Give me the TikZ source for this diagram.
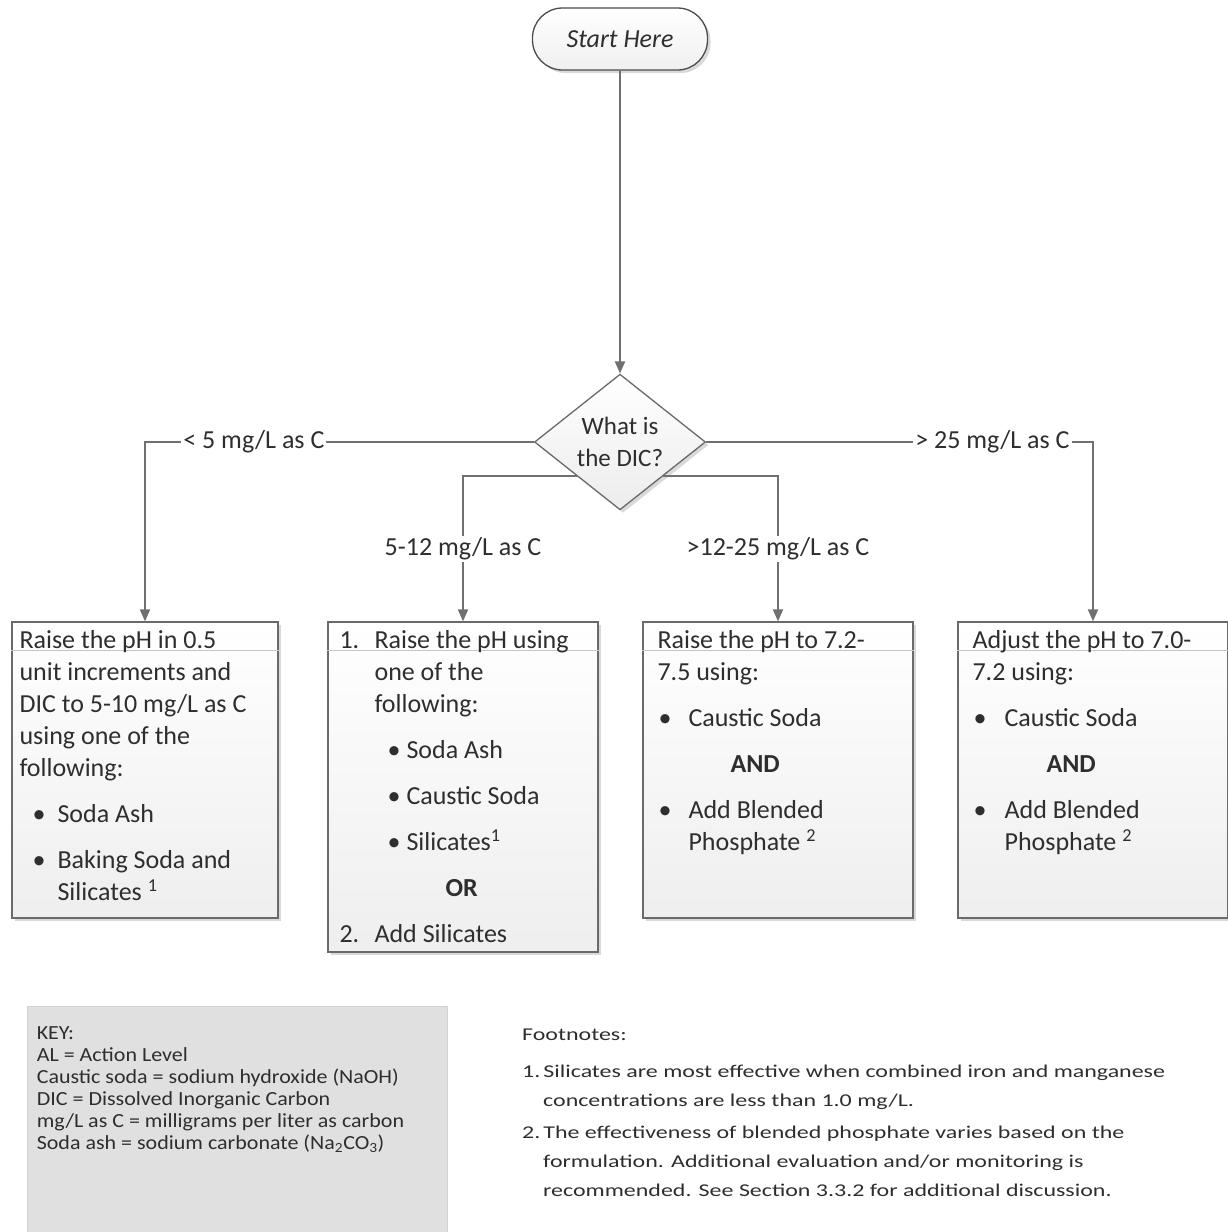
\documentclass[tikz,border=0pt]{standalone}
\usepackage{fontspec}
\setmainfont{Carlito}
\newfontfamily\keyfont{Carlito}[FakeStretch=1.1]
\newfontfamily\notefont{Carlito}[FakeStretch=1.33]
\usepackage{tikz}
\usetikzlibrary{shapes.geometric, arrows.meta, positioning, calc, shadows}

\definecolor{linegray}{HTML}{707070}
\definecolor{edgegray}{HTML}{6A6A6A}
\definecolor{keygray}{HTML}{E0E0E0}
\definecolor{inkgray}{HTML}{2E2E2E}

% bullet: indent, then a box that holds the bullet
\newcommand{\bul}[2]{\hspace*{#1}\makebox[#2][l]{\textbullet}}

\begin{document}
\begin{tikzpicture}[
    x=1pt, y=-1pt,
    box/.style={
      rectangle, draw=edgegray, line width=1.3pt,
      top color=white, bottom color=gray!13,
      drop shadow={shadow xshift=3pt, shadow yshift=-3pt, opacity=0.3, fill=gray},
      inner sep=0pt
    },
    startbox/.style={
      rectangle, rounded corners=30pt, draw=black!70, line width=1.3pt,
      top color=white, bottom color=gray!12,
      drop shadow={shadow xshift=3pt, shadow yshift=-3pt, opacity=0.3, fill=gray},
      minimum width=175pt, minimum height=62pt,
      font=\fontsize{26}{30}\selectfont\itshape, text=inkgray
    },
    decision/.style={
      diamond, draw=edgegray, line width=1.3pt, inner sep=0pt,
      top color=white, bottom color=gray!15,
      drop shadow={shadow xshift=3pt, shadow yshift=-3pt, opacity=0.3, fill=gray},
      minimum width=171pt, minimum height=130pt, align=center,
      font=\fontsize{25}{32}\selectfont, text=inkgray
    },
    txt/.style={anchor=north west, inner sep=0pt, align=left,
                font=\fontsize{26}{32}\selectfont, text=inkgray},
    arr/.style={-{Triangle[length=12pt, width=10pt]}, line width=1.9pt, draw=linegray},
    lbl/.style={font=\fontsize{26}{30}\selectfont, text=inkgray,
                fill=white, inner sep=2pt},
    rule/.style={draw=gray!45, line width=0.8pt},
    keybox/.style={rectangle, fill=keygray, draw=gray!35, line width=0.8pt,
                   minimum width=420pt, minimum height=250pt, inner sep=0pt},
    note/.style={anchor=north west, inner sep=0pt, align=left, text=inkgray},
  ]
  \useasboundingbox (0,0) rectangle (1228,1232);

  %% ── Start and decision ────────────────────────────────────────────────
  \node[startbox] (start) at (620,39) {Start Here};
  \node[decision] (dic)   at (620,442) {What is\\the DIC?};

  %% ── Action boxes (one per DIC range) ──────────────────────────────────
  \node[box, minimum width=266pt, minimum height=296pt] (lt5)  at (145,770)  {};
  \node[box, minimum width=270pt, minimum height=330pt] (to12) at (463,787)  {};
  \node[box, minimum width=270pt, minimum height=296pt] (to25) at (778,770)  {};
  \node[box, minimum width=270pt, minimum height=296pt] (gt25) at (1093,770) {};

  %  faint rule under the first line of each box
  \draw[rule] ($(lt5.north west)+(0,29)$)  -- ($(lt5.north east)+(0,29)$);
  \draw[rule] ($(to12.north west)+(0,29)$) -- ($(to12.north east)+(0,29)$);
  \draw[rule] ($(to25.north west)+(0,29)$) -- ($(to25.north east)+(0,29)$);
  \draw[rule] ($(gt25.north west)+(0,29)$) -- ($(gt25.north east)+(0,29)$);

  %% ── Box texts ─────────────────────────────────────────────────────────
  \node[txt] (lt5txt) at ($(lt5.north west)+(8,9)$) {%
    Raise the pH in 0.5\\
    unit increments and\\
    DIC to 5-10 mg/L as C\\
    using one of the\\
    following:\\[14pt]
    \bul{13pt}{25pt}Soda Ash\\[14pt]
    \bul{13pt}{25pt}Baking Soda and\\
    \hspace*{38pt}Silicates \textsuperscript{1}};

  \node[txt] (to12txt) at ($(to12.north west)+(12,9)$) {%
    \makebox[35pt][l]{1.}Raise the pH using\\
    \hspace*{35pt}one of the\\
    \hspace*{35pt}following:\\[14pt]
    \bul{48pt}{19pt}Soda Ash\\[14pt]
    \bul{48pt}{19pt}Caustic Soda\\[14pt]
    \bul{48pt}{19pt}Silicates\textsuperscript{1}\\[14pt]
    \hspace*{106pt}\textbf{OR}\\[14pt]
    \makebox[35pt][l]{2.}Add Silicates};

  \node[txt] (to25txt) at ($(to25.north west)+(15,9)$) {%
    Raise the pH to 7.2-\\
    7.5 using:\\[14pt]
    \bul{1pt}{30pt}Caustic Soda\\[14pt]
    \hspace*{73pt}\textbf{AND}\\[14pt]
    \bul{1pt}{30pt}Add Blended\\
    \hspace*{31pt}Phosphate \textsuperscript{2}};

  \node[txt] (gt25txt) at ($(gt25.north west)+(15,9)$) {%
    Adjust the pH to 7.0-\\
    7.2 using:\\[14pt]
    \bul{1pt}{31pt}Caustic Soda\\[14pt]
    \hspace*{74pt}\textbf{AND}\\[14pt]
    \bul{1pt}{31pt}Add Blended\\
    \hspace*{32pt}Phosphate \textsuperscript{2}};

  %% ── Connectors ────────────────────────────────────────────────────────
  \draw[arr] (start.south) -- (dic.north);
  \draw[arr] (dic.west)
      -| node[lbl, pos=0.36] {< 5 mg/L as C} (lt5.north);
  \draw[arr] (dic.south west)
      -| node[lbl, pos=0.75] {5-12 mg/L as C} (to12.north);
  \draw[arr] (dic.south east)
      -| node[lbl, pos=0.75] {>12-25 mg/L as C} (to25.north);
  \draw[arr] (dic.east)
      -| node[lbl, pos=0.37] {> 25 mg/L as C} (gt25.north);

  %% ── Key and footnotes ─────────────────────────────────────────────────
  \node[keybox] (key) at (237,1131) {};
  \node[note, font=\keyfont\fontsize{20}{22}\selectfont] (keytxt)
      at ($(key.north west)+(10,21)$) {%
    KEY:\\
    AL = Action Level\\
    Caustic soda = sodium hydroxide (NaOH)\\
    DIC = Dissolved Inorganic Carbon\\
    mg/L as C = milligrams per liter as carbon\\
    Soda ash = sodium carbonate (Na\textsubscript{2}CO\textsubscript{3})};

  \node[note, font=\notefont\fontsize{18}{29}\selectfont] (notes) at (522,1029) {%
    Footnotes:\\[8pt]
    1.\,Silicates are most effective when combined iron and manganese\\
    \hspace*{21pt}concentrations are less than 1.0 mg/L.\\[3pt]
    2.\,The effectiveness of blended phosphate varies based on the\\
    \hspace*{21pt}formulation. Additional evaluation and/or monitoring is\\
    \hspace*{21pt}recommended. See Section 3.3.2 for additional discussion.};

\end{tikzpicture}
\end{document}
